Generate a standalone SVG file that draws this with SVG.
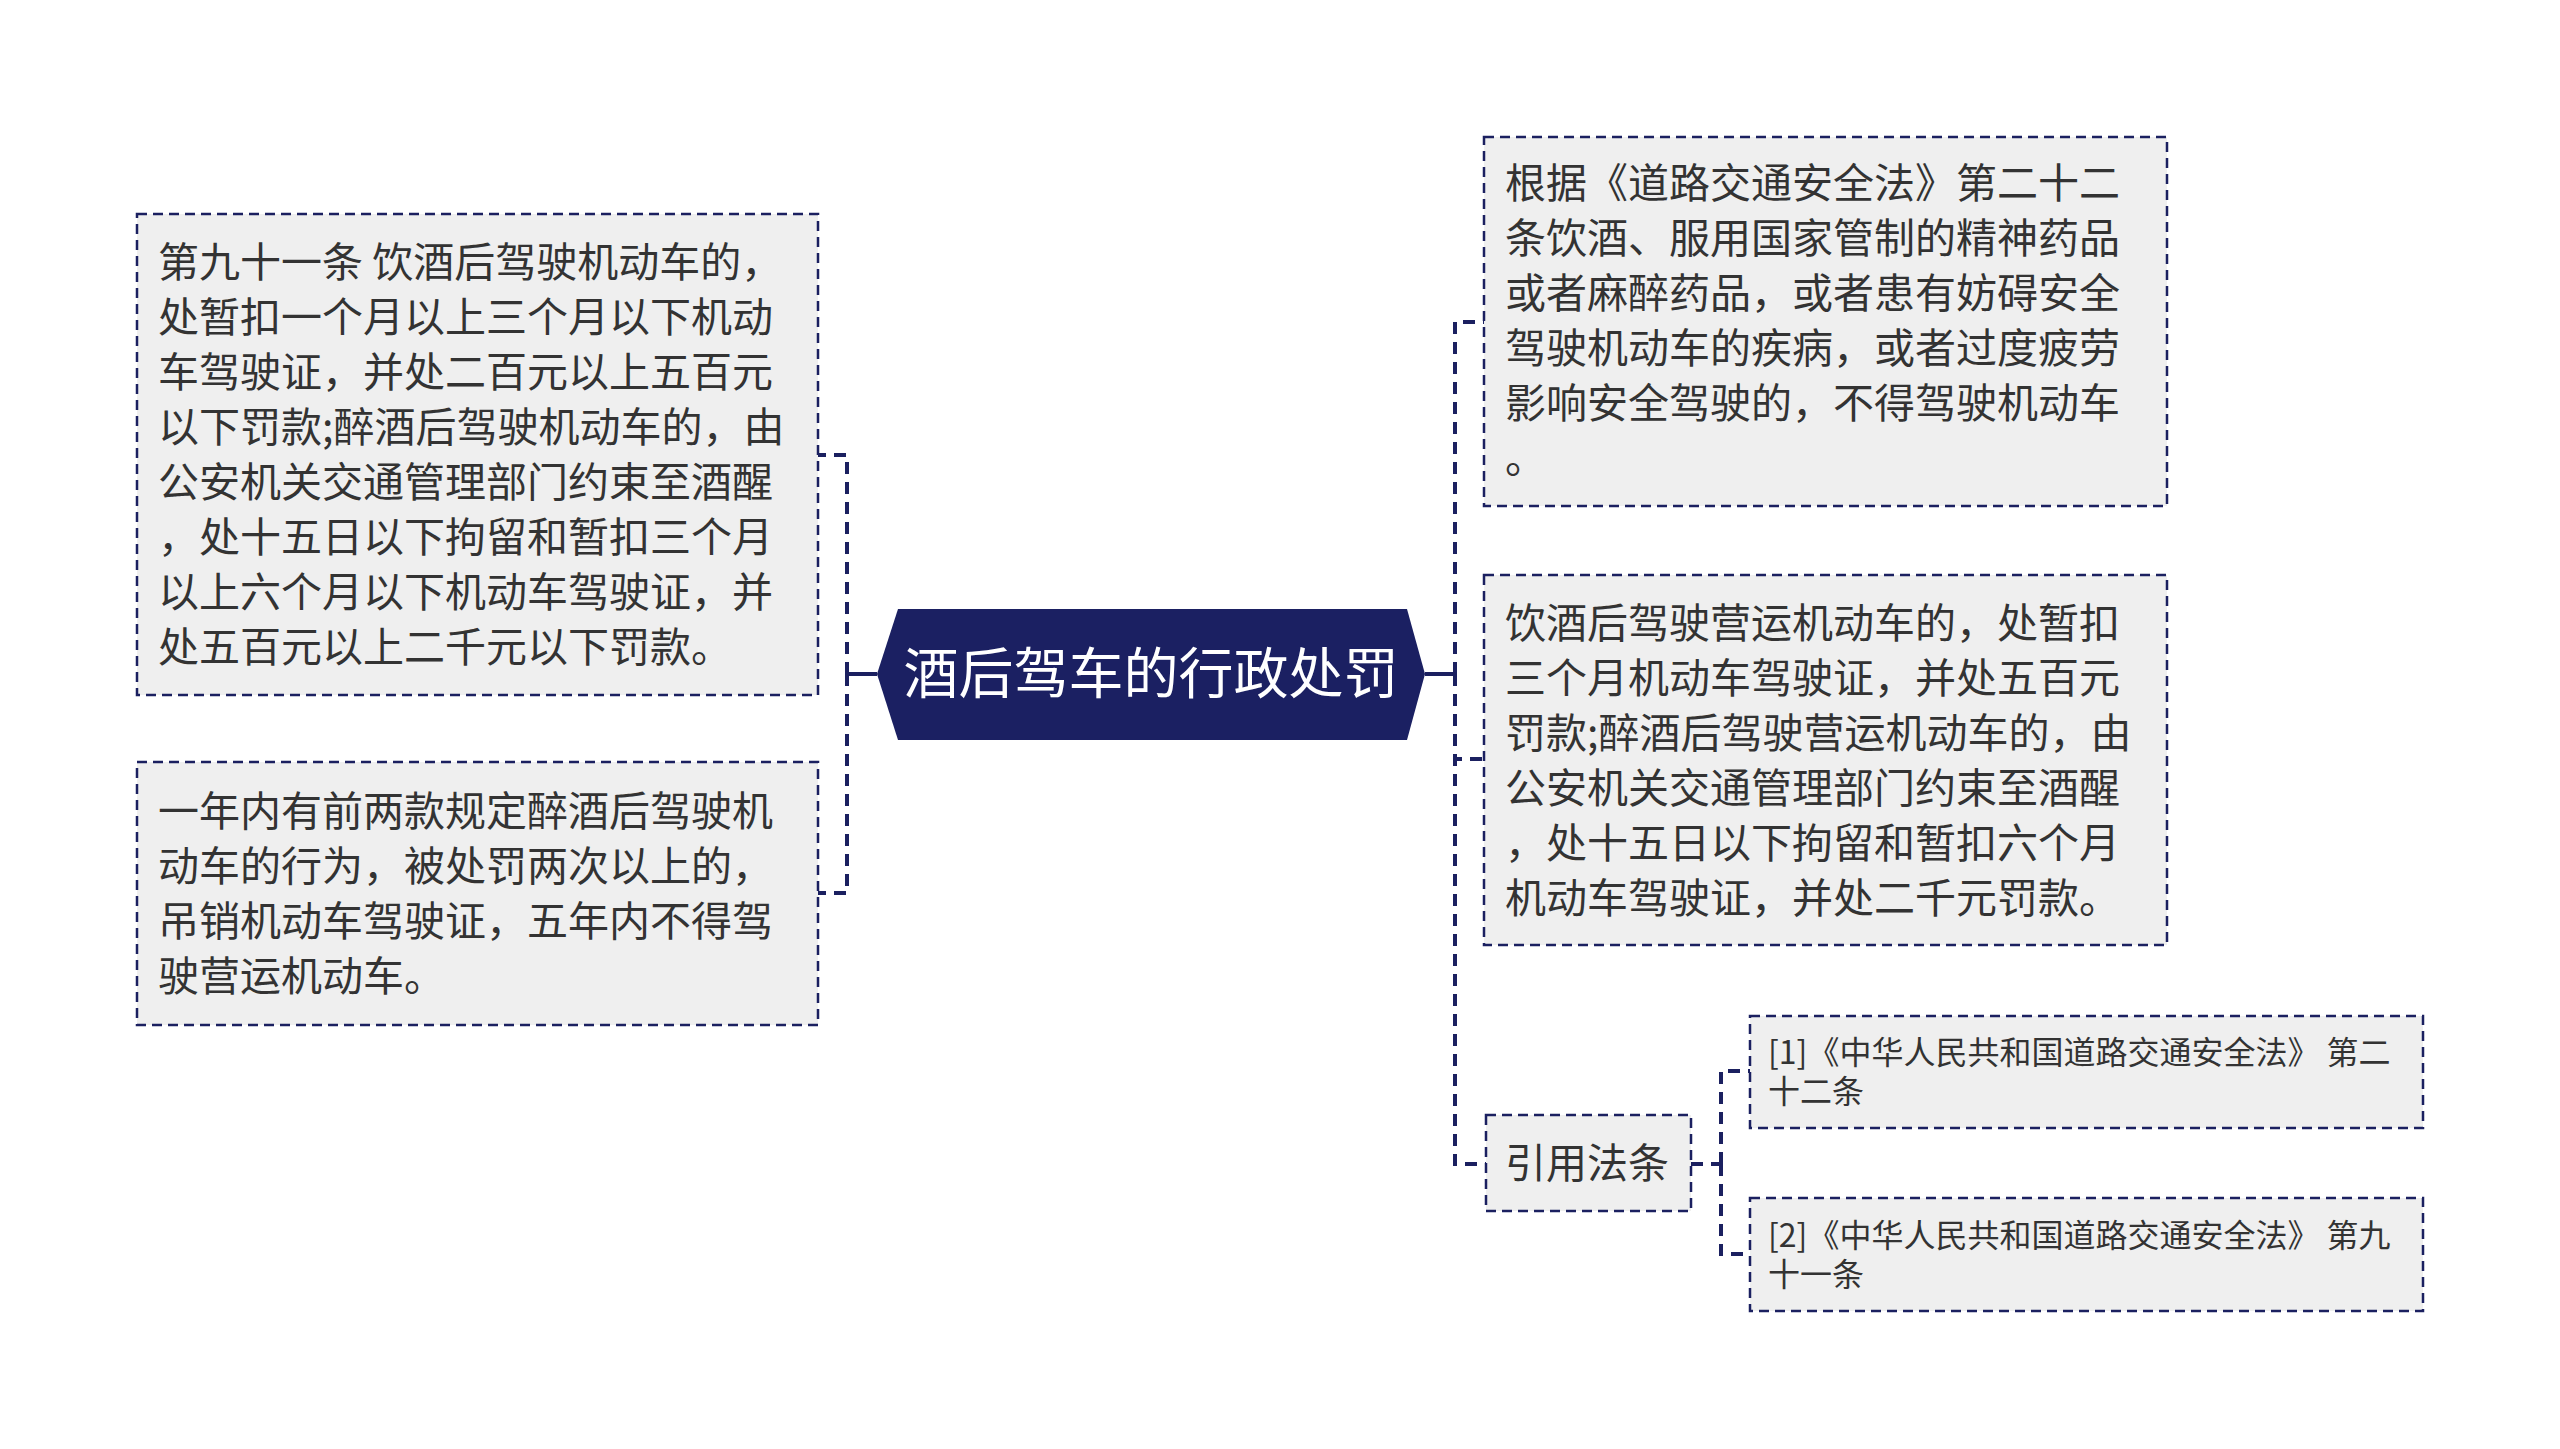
<svg xmlns="http://www.w3.org/2000/svg" width="2560" height="1449" viewBox="0 0 2560 1449">
<style>
.box{fill:#efefef;stroke:#1b2060;stroke-width:2.5;stroke-dasharray:10 6}
.t{font-family:"Noto Sans CJK SC","Noto Sans",sans-serif;fill:#333333;font-size:41px}
.s{font-size:32px}
.c{fill:none;stroke:#1b2060;stroke-width:4;stroke-dasharray:12 8}
.solid{fill:none;stroke:#1b2060;stroke-width:4}
</style>
<rect width="2560" height="1449" fill="#ffffff"/>
<g id="connectors">
<path class="solid" d="M877 674 H847"/>
<path class="c" d="M847 674 V455 H818 M847 674 V893 H818"/>
<path class="solid" d="M1425 674 H1455"/>
<path class="c" d="M1455 674 V322 H1484 M1455 674 V759 H1484 M1455 674 V1164 H1486"/>
<path class="c" d="M1691 1164 H1721 M1721 1164 V1071 H1750 M1721 1164 V1254 H1750"/>
</g>
<g id="root">
<polygon points="877,674 898,609 1407,609 1425,674 1407,740 898,740" fill="#1b2062"/>
<text x="1151" y="693" text-anchor="middle" font-family="Noto Sans CJK SC,sans-serif" font-size="55" fill="#ffffff">酒后驾车的行政处罚</text>
</g>
<g id="n1">
<rect class="box" x="137" y="214" width="681" height="481"/>
<text class="t" x="158" y="277">第九十一条 饮酒后驾驶机动车的，</text>
<text class="t" x="158" y="332">处暂扣一个月以上三个月以下机动</text>
<text class="t" x="158" y="387">车驾驶证，并处二百元以上五百元</text>
<text class="t" x="158" y="442">以下罚款;醉酒后驾驶机动车的，由</text>
<text class="t" x="158" y="497">公安机关交通管理部门约束至酒醒</text>
<text class="t" x="158" y="552">，处十五日以下拘留和暂扣三个月</text>
<text class="t" x="158" y="607">以上六个月以下机动车驾驶证，并</text>
<text class="t" x="158" y="662">处五百元以上二千元以下罚款。</text>
</g>
<g id="n2">
<rect class="box" x="137" y="762" width="681" height="263"/>
<text class="t" x="158" y="826">一年内有前两款规定醉酒后驾驶机</text>
<text class="t" x="158" y="881">动车的行为，被处罚两次以上的，</text>
<text class="t" x="158" y="936">吊销机动车驾驶证，五年内不得驾</text>
<text class="t" x="158" y="991">驶营运机动车。</text>
</g>
<g id="n3">
<rect class="box" x="1484" y="137" width="683" height="369"/>
<text class="t" x="1505" y="198">根据《道路交通安全法》第二十二</text>
<text class="t" x="1505" y="253">条饮酒、服用国家管制的精神药品</text>
<text class="t" x="1505" y="308">或者麻醉药品，或者患有妨碍安全</text>
<text class="t" x="1505" y="363">驾驶机动车的疾病，或者过度疲劳</text>
<text class="t" x="1505" y="418">影响安全驾驶的，不得驾驶机动车</text>
<text class="t" x="1505" y="473">。</text>
</g>
<g id="n4">
<rect class="box" x="1484" y="575" width="683" height="370"/>
<text class="t" x="1505" y="638">饮酒后驾驶营运机动车的，处暂扣</text>
<text class="t" x="1505" y="693">三个月机动车驾驶证，并处五百元</text>
<text class="t" x="1505" y="748">罚款;醉酒后驾驶营运机动车的，由</text>
<text class="t" x="1505" y="803">公安机关交通管理部门约束至酒醒</text>
<text class="t" x="1505" y="858">，处十五日以下拘留和暂扣六个月</text>
<text class="t" x="1505" y="913">机动车驾驶证，并处二千元罚款。</text>
</g>
<g id="n5">
<rect class="box" x="1486" y="1115" width="205" height="96"/>
<text class="t" x="1505" y="1178">引用法条</text>
</g>
<g id="n6">
<rect class="box" x="1750" y="1016" width="673" height="112"/>
<text class="t s" x="1768" y="1064">[1]《中华人民共和国道路交通安全法》 第二</text>
<text class="t s" x="1768" y="1103">十二条</text>
</g>
<g id="n7">
<rect class="box" x="1750" y="1198" width="673" height="113"/>
<text class="t s" x="1768" y="1247">[2]《中华人民共和国道路交通安全法》 第九</text>
<text class="t s" x="1768" y="1286">十一条</text>
</g>
</svg>
